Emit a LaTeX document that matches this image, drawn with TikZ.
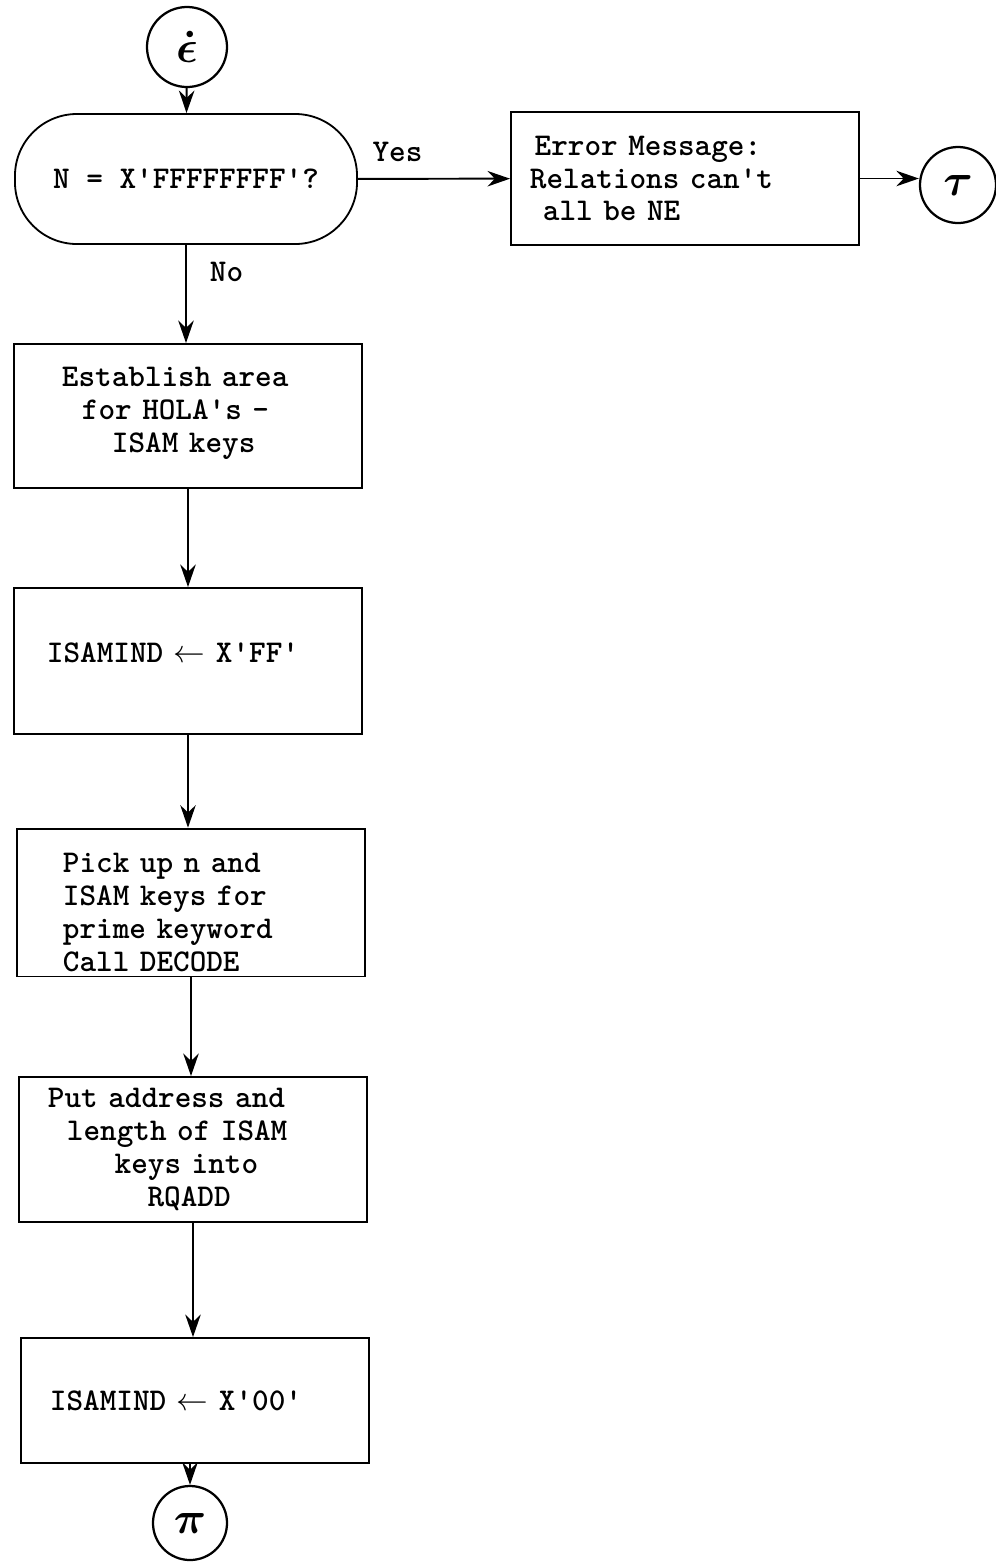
\RequirePackage{fix-cm}
\documentclass[tikz,border=0pt]{standalone}
\usepackage{amsmath,amssymb}
\usepackage{tikz}
\usetikzlibrary{arrows.meta, positioning}

\newcommand{\lowstrut}[1]{\rule[-#1]{0pt}{#1}}
\newcommand{\highstrut}[1]{\rule{0pt}{#1}}
\newcommand{\tyfont}{\ttfamily\bfseries\fontsize{22.5}{23.4}\selectfont}

\tikzset{
    flow/.style={line width=1.4pt, -{Stealth[length=16pt, width=11pt]}},
    procbox/.style={draw, line width=1.3pt, minimum width=8.7cm, align=center, font=\tyfont},
    lefttext/.style={align=left, inner xsep=#1, text width=8.7cm-2*#1},
    conn/.style={draw, circle, line width=1.6pt, inner sep=0pt},
    symb/.style={font=\fontsize{32}{32}\selectfont},
}

\begin{document}
\begin{tikzpicture}[x=0.025cm, y=-0.025cm]
        \useasboundingbox (0,0) rectangle (995,1568);

        % Connectors in and out
        \node[conn, symb, minimum size=2cm] (eps) at (187,47) {$\boldsymbol{\dot\epsilon}$};
        \node[conn, symb, minimum size=1.9cm] (tau) at (958,185) {$\boldsymbol{\tau}$};
        \node[conn, symb, minimum size=1.85cm] (pi) at (190,1523) {$\boldsymbol{\pi}$};

        % Decision
        \node[procbox, rounded corners=1.55cm, minimum width=8.55cm, minimum height=3.25cm]
            (test) at (186,179) {N = X'FFFFFFFF'?};

        % Error branch
        \node[procbox, lefttext=0.475cm, minimum height=3.325cm] (err) at (685,178.5)
            {\hspace*{0.15em}Error Message:\\Relations can't\\\hspace*{0.41em}all be NE};

        % Main column
        \node[procbox, lefttext=1.2cm, minimum height=3.6cm] (area) at (188,416)
            {Establish area\\\hspace*{0.63em}for HOLA's -\\\hspace*{1.58em}ISAM keys\lowstrut{9pt}};
        \node[procbox, lefttext=0.825cm, minimum height=3.65cm] (ffind) at (188,661)
            {ISAMIND $\leftarrow$ X'FF'\lowstrut{11.3pt}};
        \node[procbox, lefttext=1.15cm, minimum height=3.525cm] (pick) at (191,902.5)
            {\highstrut{28pt}Pick up n and\\ISAM keys for\\prime keyword\\Call DECODE};
        \node[procbox, lefttext=0.725cm, minimum height=3.625cm] (put) at (193,1149.5)
            {Put address and\\\hspace*{0.6em}length of ISAM\\\hspace*{2.11em}keys into\\\hspace*{3.15em}RQADD};
        \node[procbox, lefttext=0.725cm, minimum height=3.125cm] (zind) at (195,1400.5)
            {ISAMIND $\leftarrow$ X'00'};

        % Flow lines
        \draw[flow] (eps) -- (test);
        \draw[flow] (test) -- node[above, font=\tyfont, pos=0.26, yshift=8pt] {Yes} (err);
        \draw[flow] (err) -- (err.east -| tau.west);
        \draw[flow] (test.south) -- node[right, font=\tyfont, pos=0.27, xshift=13pt] {No} (test.south |- area.north);
        \draw[flow] (area.south) -- (area.south |- ffind.north);
        \draw[flow] (ffind.south) -- (ffind.south |- pick.north);
        \draw[flow] (pick.south) -- (pick.south |- put.north);
        \draw[flow] (put.south) -- (put.south |- zind.north);
        \draw[flow] (zind.south -| pi.north) -- (pi);
\end{tikzpicture}
\end{document}
